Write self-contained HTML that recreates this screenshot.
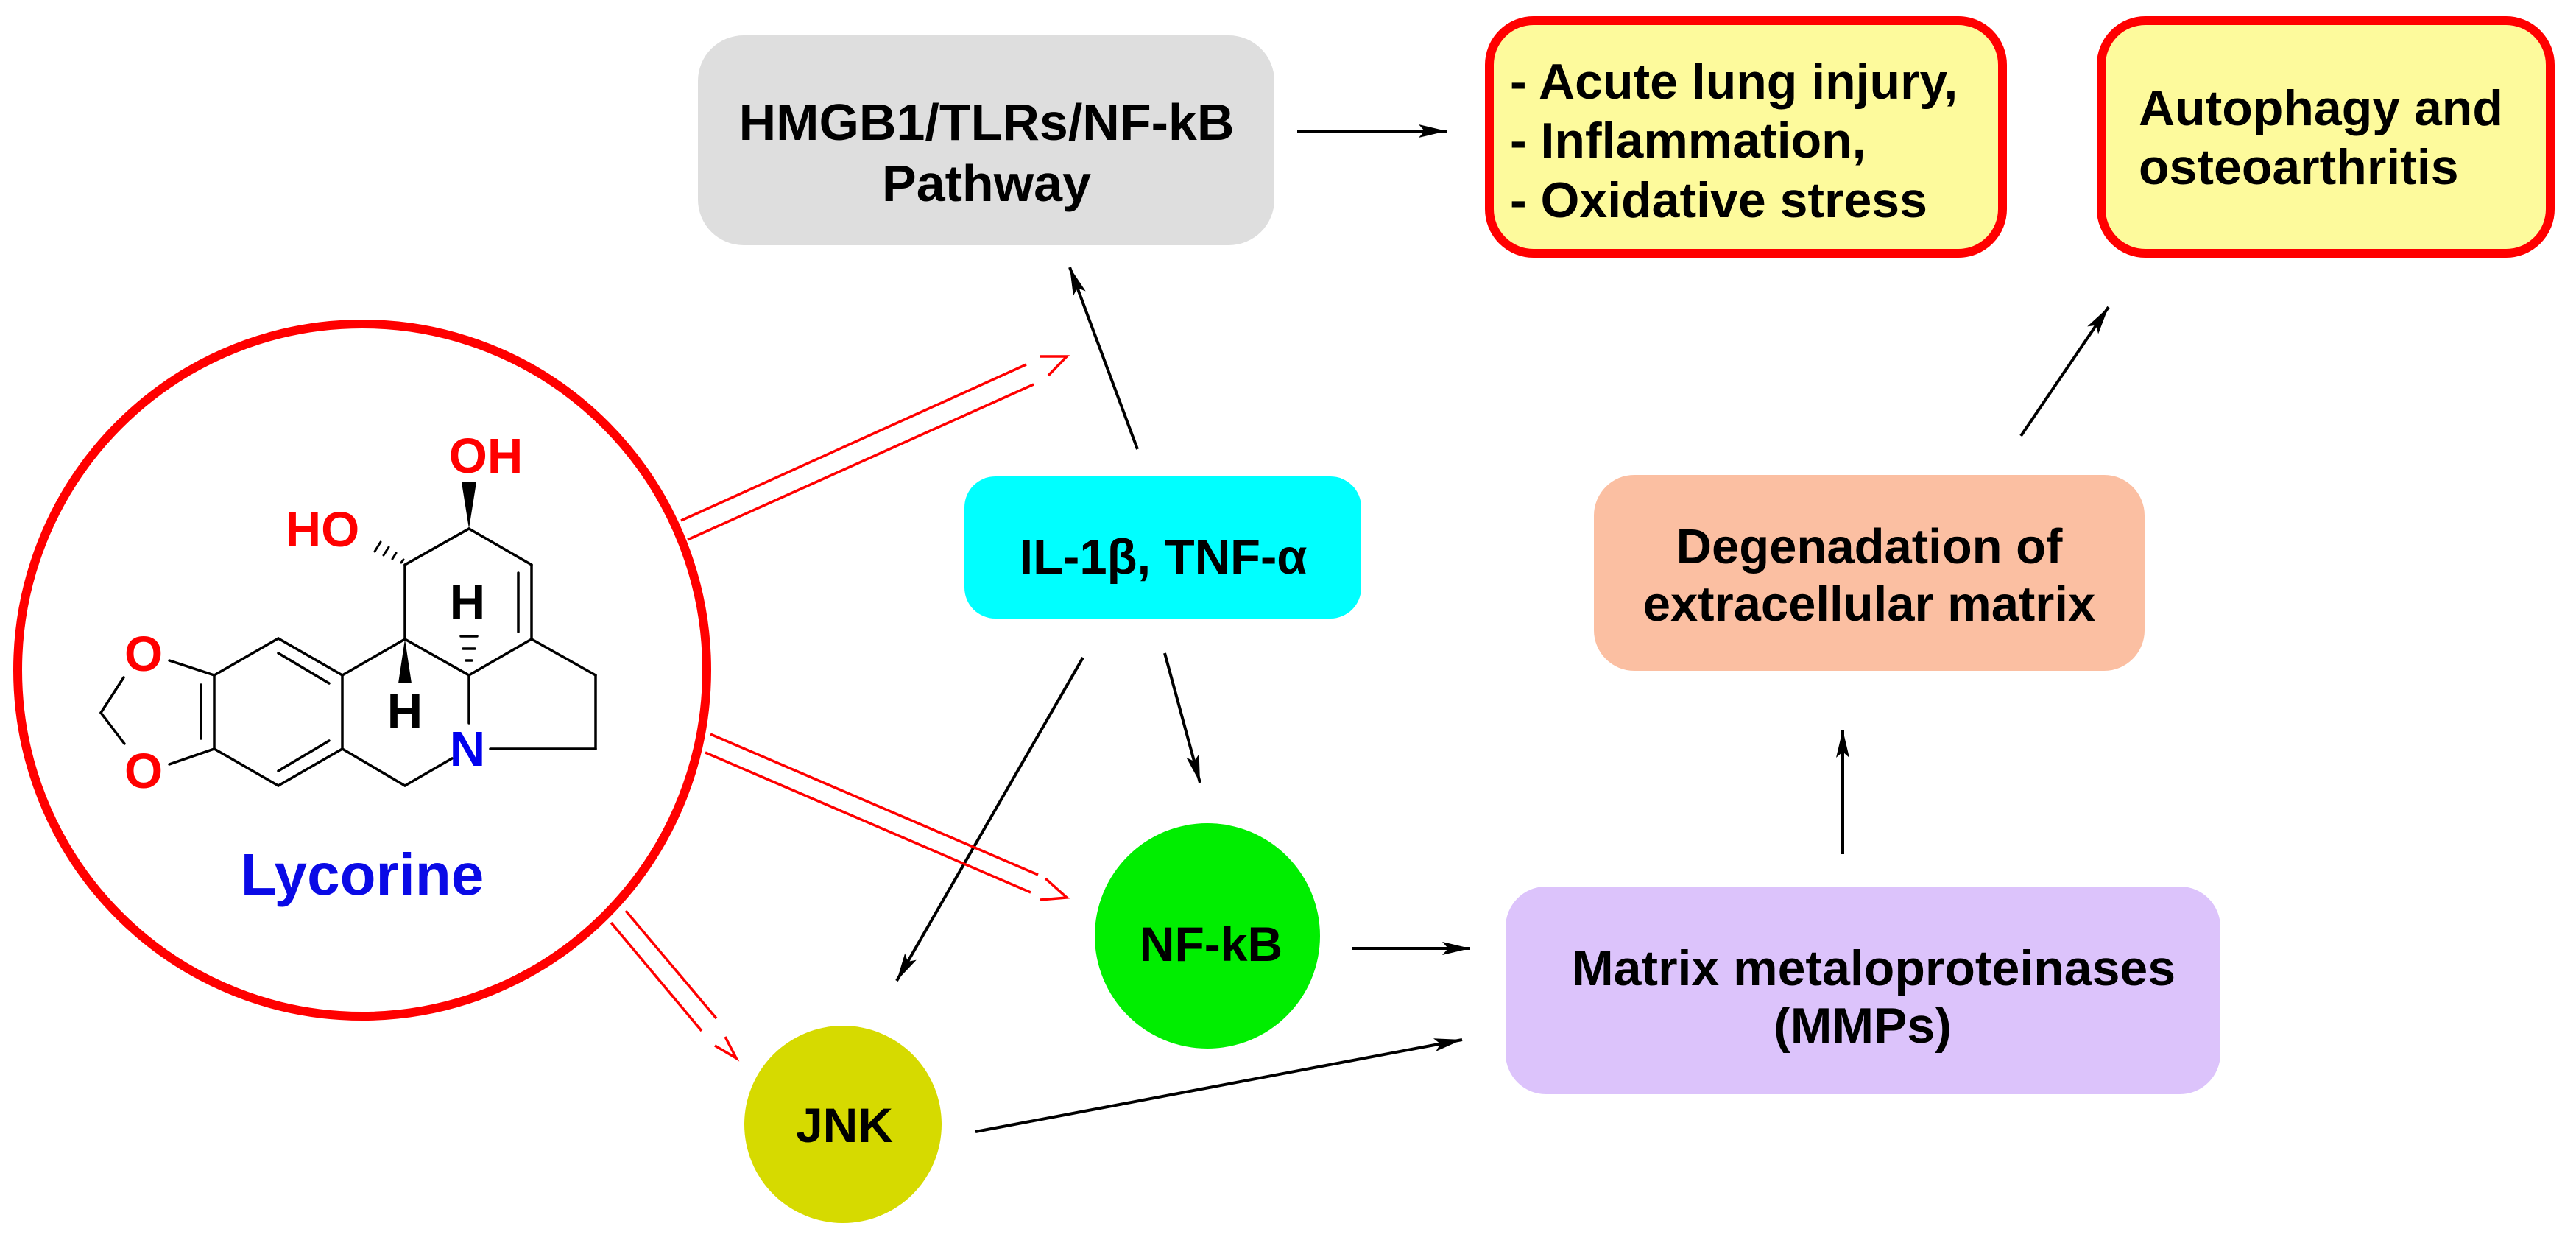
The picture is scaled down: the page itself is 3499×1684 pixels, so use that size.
<!DOCTYPE html>
<html><head><meta charset="utf-8"><style>
html,body{margin:0;padding:0;background:#fff;}
svg{display:block;}
text{font-family:"Liberation Sans",Arial,sans-serif;font-weight:bold;}
</style></head><body>
<svg width="3499" height="1684" viewBox="0 0 3499 1684" xmlns="http://www.w3.org/2000/svg">
<defs>
<marker id="ah" markerUnits="userSpaceOnUse" markerWidth="40" markerHeight="24" refX="38" refY="12" orient="auto">
<path d="M0,3 L38,12 L0,21 L8,12 Z" fill="#000"/>
</marker>
</defs>

<rect x="948" y="48" width="783" height="285" rx="62" fill="#dedede"/>
<text x="1340" y="190" font-size="70" text-anchor="middle" fill="#000">HMGB1/TLRs/NF-kB</text>
<text x="1340" y="273" font-size="70" text-anchor="middle" fill="#000">Pathway</text>

<rect x="2023" y="28" width="697" height="316" rx="60" fill="#fdfa9c" stroke="#f00" stroke-width="12"/>
<text x="2051" y="134" font-size="68" fill="#000">- Acute lung injury,</text>
<text x="2051" y="214" font-size="68" fill="#000">- Inflammation,</text>
<text x="2051" y="295" font-size="68" fill="#000">- Oxidative stress</text>

<rect x="2854" y="28" width="610" height="316" rx="60" fill="#fdfa9c" stroke="#f00" stroke-width="12"/>
<text x="2905" y="170" font-size="68" fill="#000">Autophagy and</text>
<text x="2905" y="250" font-size="68" fill="#000">osteoarthritis</text>

<rect x="1310" y="647" width="539" height="193" rx="42" fill="#00ffff"/>
<text x="1580" y="779" font-size="67" text-anchor="middle" fill="#000">IL-1β, TNF-α</text>

<rect x="2165" y="645" width="748" height="266" rx="55" fill="#fbbfa2"/>
<text x="2539" y="765" font-size="67" text-anchor="middle" fill="#000">Degenadation of</text>
<text x="2539" y="843" font-size="67" text-anchor="middle" fill="#000">extracellular matrix</text>

<rect x="2045" y="1204" width="971" height="282" rx="55" fill="#dcc3fb"/>
<text x="2545" y="1338" font-size="68" text-anchor="middle" fill="#000">Matrix metaloproteinases</text>
<text x="2530" y="1416" font-size="68" text-anchor="middle" fill="#000">(MMPs)</text>

<circle cx="1640" cy="1271" r="153" fill="#00ee00"/>
<text x="1645" y="1305" font-size="66" text-anchor="middle" fill="#000">NF-kB</text>

<circle cx="1145" cy="1527" r="134" fill="#d6da00"/>
<text x="1147" y="1551" font-size="66" text-anchor="middle" fill="#000">JNK</text>

<g stroke="#000" stroke-width="4" fill="none" marker-end="url(#ah)">
<line x1="1762" y1="178" x2="1965" y2="178"/>
<line x1="1545" y1="610" x2="1453" y2="363"/>
<line x1="1582" y1="887" x2="1630" y2="1063"/>
<line x1="1471" y1="893" x2="1218" y2="1332"/>
<line x1="1836" y1="1288" x2="1997" y2="1288"/>
<line x1="1325" y1="1537" x2="1986" y2="1412"/>
<line x1="2503" y1="1160" x2="2503" y2="991"/>
<line x1="2745" y1="592" x2="2864" y2="417"/>
</g>

<g stroke="#f00" stroke-width="3.5" fill="none">
<line x1="925" y1="707" x2="1394" y2="495"/>
<line x1="934" y1="733" x2="1404" y2="522"/>
<polyline points="1413,484 1449,484 1424,510"/>
<line x1="965" y1="997" x2="1410" y2="1188"/>
<line x1="958" y1="1022" x2="1400" y2="1212"/>
<polyline points="1420,1193 1449,1219 1413,1222"/>
<line x1="830" y1="1253" x2="953" y2="1400"/>
<line x1="850" y1="1237" x2="973" y2="1383"/>
<polyline points="985,1408 1000,1437 971,1420"/>
</g>

<ellipse cx="492" cy="910" rx="468" ry="470" fill="none" stroke="#f00" stroke-width="12"/>

<g stroke="#000" stroke-width="3.5" fill="none" stroke-linecap="round">
<line x1="550" y1="767" x2="637" y2="718"/>
<line x1="637" y1="718" x2="722" y2="767"/>
<line x1="722" y1="767" x2="722" y2="868"/>
<line x1="704" y1="778" x2="704" y2="858"/>
<line x1="722" y1="868" x2="637" y2="917"/>
<line x1="550" y1="767" x2="550" y2="868"/>
<line x1="550" y1="868" x2="637" y2="917"/>
<line x1="550" y1="868" x2="465" y2="917"/>
<line x1="637" y1="917" x2="637" y2="982"/>
<line x1="614" y1="1030" x2="550" y2="1067"/>
<line x1="550" y1="1067" x2="465" y2="1017"/>
<line x1="666" y1="1017" x2="809" y2="1017"/>
<line x1="809" y1="1017" x2="809" y2="917"/>
<line x1="809" y1="917" x2="722" y2="868"/>
<line x1="465" y1="917" x2="378" y2="867"/>
<line x1="378" y1="867" x2="291" y2="917"/>
<line x1="291" y1="917" x2="291" y2="1017"/>
<line x1="291" y1="1017" x2="378" y2="1067"/>
<line x1="378" y1="1067" x2="465" y2="1017"/>
<line x1="465" y1="1017" x2="465" y2="917"/>
<line x1="378" y1="887" x2="447" y2="928"/>
<line x1="273" y1="930" x2="273" y2="1003"/>
<line x1="378" y1="1047" x2="447" y2="1006"/>
<line x1="291" y1="917" x2="230" y2="897"/>
<line x1="291" y1="1017" x2="230" y2="1038"/>
<line x1="168" y1="920" x2="137" y2="968"/>
<line x1="137" y1="968" x2="169" y2="1010"/>
<line x1="545" y1="764" x2="548" y2="760" stroke-width="3"/>
<line x1="533" y1="759" x2="538" y2="751" stroke-width="3"/>
<line x1="521" y1="754" x2="528" y2="743" stroke-width="3"/>
<line x1="509" y1="749" x2="517" y2="736" stroke-width="3"/>
<line x1="633" y1="897" x2="641" y2="897"/>
<line x1="629" y1="881" x2="645" y2="881"/>
<line x1="626" y1="864" x2="648" y2="864"/>
</g>
<polygon points="637,718 627,655 647,655" fill="#000"/>
<polygon points="550,868 541,928 559,928" fill="#000"/>
<text x="660" y="642" font-size="67" text-anchor="middle" fill="#f00">OH</text>
<text x="438" y="742" font-size="67" text-anchor="middle" fill="#f00">HO</text>
<text x="195" y="911" font-size="67" text-anchor="middle" fill="#f00">O</text>
<text x="195" y="1070" font-size="67" text-anchor="middle" fill="#f00">O</text>
<text x="635" y="840" font-size="67" text-anchor="middle" fill="#000">H</text>
<text x="550" y="989" font-size="67" text-anchor="middle" fill="#000">H</text>
<text x="635" y="1040" font-size="67" text-anchor="middle" fill="#0000ee">N</text>
<text x="492" y="1215" font-size="80" text-anchor="middle" fill="#0a0ae6">Lycorine</text>
</svg>
</body></html>
